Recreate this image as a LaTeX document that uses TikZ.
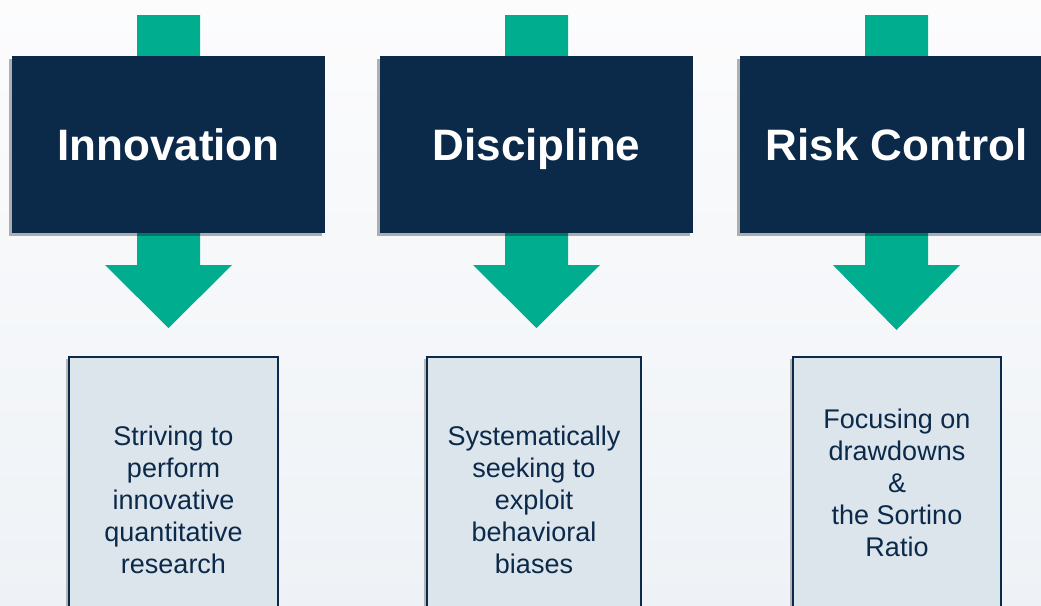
\documentclass[tikz,border=0pt]{standalone}
\usepackage{fontspec}
\setmainfont{Liberation Sans}
\usepackage{xcolor}
\usepackage{tikz}
\usetikzlibrary{calc,shadows}

\definecolor{navy}{HTML}{0B2A4A}
\definecolor{teal}{HTML}{00AD8E}
\definecolor{paper}{HTML}{DCE4EC}
\definecolor{bgtop}{HTML}{FCFCFD}
\definecolor{bgbot}{HTML}{EEF2F6}

\tikzset{
  titlebox/.style = {rectangle, fill=navy, text=white, minimum width=313pt, minimum height=177pt,
                     inner sep=0pt, text height=31.5pt, text depth=0pt,
                     font=\fontsize{44}{48}\selectfont\bfseries,
                     drop shadow={shadow xshift=-3pt, shadow yshift=-3pt, opacity=0.3, fill=black}},
  notebox/.style  = {rectangle, draw=navy, line width=1.8pt, fill=paper, anchor=north,
                     inner sep=0pt, minimum height=270pt,
                     drop shadow={shadow xshift=-3pt, shadow yshift=-2pt, opacity=0.25, fill=black}},
  notetext/.style = {align=center, text=navy, font=\fontsize{27}{32}\selectfont},
  pointer/.style  = {fill=teal}
}

\begin{document}
\begin{tikzpicture}[x=1pt, y=-1pt]
            \useasboundingbox (0,0) rectangle (1041,605);
            \clip (0,0) rectangle (1041,605);
            \shade[top color=bgtop, bottom color=bgbot] (0,0) rectangle (1041,605);

            \fill[pointer] (137,15) -- (200,15) -- (200,265) -- (232,265) -- (168.5,328) -- (105,265) -- (137,265) -- cycle;
            \fill[pointer] (505,15) -- (568,15) -- (568,265) -- (600,265) -- (536.5,328) -- (473,265) -- (505,265) -- cycle;
            \fill[pointer] (865,15) -- (928,15) -- (928,265) -- (960,265) -- (896.5,330) -- (833,265) -- (865,265) -- cycle;

            \node[titlebox] (inno) at (168.5,144.5) {Innovation};
            \node[titlebox] (disc) at (536.5,144.5) {Discipline};
            \node[titlebox] (risk) at (896.5,144.5) {Risk Control};

            \node[notebox, minimum width=209pt] (innobox) at (173.5,356) {};
            \node[notebox, minimum width=214pt] (discbox) at (534,356) {};
            \node[notebox, minimum width=208pt] (riskbox) at (897,356) {};

            \node[notetext] (innotext) at (173.5,499.5) {Striving to\\perform\\innovative\\quantitative\\research};
            \node[notetext] (disctext) at (534,499.5) {Systematically\\seeking to\\exploit\\behavioral\\biases};
            \node[notetext] (risktext) at (897,483) {Focusing on\\drawdowns\\\&\\the Sortino\\Ratio};
\end{tikzpicture}
\end{document}
